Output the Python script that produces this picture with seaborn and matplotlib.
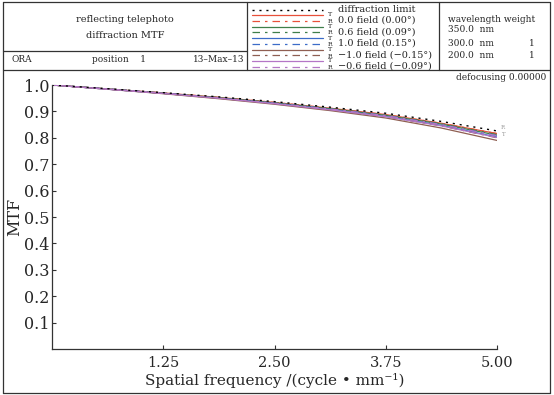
import numpy as np
import pandas as pd
import matplotlib
matplotlib.use('Agg')
import matplotlib.pyplot as plt
from matplotlib.lines import Line2D
import seaborn as sns

# spatial frequency samples (cycle/mm)
freq = [0, 0.625, 1.25, 1.875, 2.5, 3.125, 3.75, 4.375, 5.0]

# MTF values
diff_limit = [1.0, 0.986, 0.971, 0.955, 0.937, 0.916, 0.893, 0.862, 0.826]
f00_T = [1.0, 0.985, 0.970, 0.953, 0.934, 0.912, 0.888, 0.855, 0.816]
f00_R = [1.0, 0.985, 0.970, 0.953, 0.934, 0.912, 0.888, 0.855, 0.816]
f06_T = [1.0, 0.985, 0.969, 0.952, 0.932, 0.910, 0.885, 0.852, 0.810]
f06_R = [1.0, 0.985, 0.969, 0.952, 0.933, 0.911, 0.886, 0.853, 0.812]
f10_T = [1.0, 0.984, 0.968, 0.950, 0.930, 0.907, 0.881, 0.847, 0.803]
f10_R = [1.0, 0.985, 0.969, 0.951, 0.931, 0.909, 0.884, 0.850, 0.808]
fm10_T = [1.0, 0.984, 0.967, 0.948, 0.927, 0.903, 0.875, 0.837, 0.790]
fm10_R = [1.0, 0.984, 0.968, 0.950, 0.930, 0.906, 0.880, 0.845, 0.800]
fm06_T = [1.0, 0.984, 0.968, 0.950, 0.929, 0.906, 0.880, 0.845, 0.801]
fm06_R = [1.0, 0.985, 0.969, 0.951, 0.931, 0.909, 0.884, 0.850, 0.808]

field_labels = ['0.0 field (0.00°)', '0.6 field (0.09°)', '1.0 field (0.15°)',
                '\u22121.0 field (\u22120.15°)', '\u22120.6 field (\u22120.09°)']
field_colors = ['#e8503a', '#3f7f4a', '#3c6cc8', '#8f5f52', '#b476c6']
field_T = [f00_T, f06_T, f10_T, fm10_T, fm06_T]
field_R = [f00_R, f06_R, f10_R, fm10_R, fm06_R]

xticks = [1.25, 2.50, 3.75, 5.00]
xtick_labels = ['1.25', '2.50', '3.75', '5.00']
yticks = [0.1, 0.2, 0.3, 0.4, 0.5, 0.6, 0.7, 0.8, 0.9, 1.0]

sns.set_style('white')
plt.rcParams['font.family'] = ['DejaVu Serif']

W, H = 554, 395
fig = plt.figure(figsize=(W / 100, H / 100), dpi=100)


def px(x, y):
    return x / W, 1 - y / H


def hline(x0, x1, y, **kw):
    a, b = px(x0, y)
    c, d = px(x1, y)
    fig.add_artist(Line2D([a, c], [b, d], transform=fig.transFigure, **kw))


def vline(x, y0, y1, **kw):
    a, b = px(x, y0)
    c, d = px(x, y1)
    fig.add_artist(Line2D([a, c], [b, d], transform=fig.transFigure, **kw))


def ftext(x, y, s, **kw):
    a, b = px(x, y)
    fig.text(a, b, s, **kw)


frame = dict(color='#333333', lw=0.9)
# outer frame and header boxes
hline(3, 550, 2, **frame)
hline(3, 550, 393, **frame)
vline(3, 2, 393, **frame)
vline(550, 2, 393, **frame)
hline(3, 550, 70, **frame)
hline(3, 247, 51, **frame)
vline(247, 2, 70, **frame)
vline(439, 2, 70, **frame)

# title box
ftext(125, 20, 'reflecting telephoto', ha='center', va='center', fontsize=7)
ftext(125, 36, 'diffraction MTF', ha='center', va='center', fontsize=7)
ftext(11, 60, 'ORA', ha='left', va='center', fontsize=6.5)
ftext(92, 60, 'position    1', ha='left', va='center', fontsize=6.5)
ftext(244, 60, '13\u2013Max\u201313', ha='right', va='center', fontsize=6.5)

# wavelength box
ftext(448, 19, 'wavelength weight', ha='left', va='center', fontsize=6.5)
ftext(448, 30, '350.0  nm', ha='left', va='center', fontsize=6.5)
ftext(448, 43, '300.0  nm', ha='left', va='center', fontsize=6.5)
ftext(448, 55, '200.0  nm', ha='left', va='center', fontsize=6.5)
ftext(532, 43, '1', ha='center', va='center', fontsize=6.5)
ftext(532, 55, '1', ha='center', va='center', fontsize=6.5)

# header legend
rdash = (0, (6, 4, 2, 4))
hline(252, 323, 10, color='black', lw=1.0, linestyle=(0, (1.5, 3.5)))
ftext(338, 9, 'diffraction limit', ha='left', va='center', fontsize=7)
for i, (lab, col) in enumerate(zip(field_labels, field_colors)):
    yt = 15 + i * 11.5
    yr = yt + 5.5
    hline(252, 323, yt, color=col, lw=0.9)
    hline(252, 323, yr, color=col, lw=0.9, linestyle=rdash)
    ftext(328, yt, 'T', ha='left', va='center', fontsize=4.5)
    ftext(328, yr + 1, 'R', ha='left', va='center', fontsize=4.5)
    ftext(338, yr, lab, ha='left', va='center', fontsize=7)

ftext(546, 78, 'defocusing 0.00000', ha='right', va='center', fontsize=6.5)

# MTF plot
ax = fig.add_axes([52 / W, (H - 349) / H, (497 - 52) / W, (349 - 85) / H])
for col, t_vals, r_vals in zip(field_colors, field_T, field_R):
    sns.lineplot(x=freq, y=t_vals, ax=ax, color=col, lw=0.9)
    sns.lineplot(x=freq, y=r_vals, ax=ax, color=col, lw=0.9, linestyle=rdash)
sns.lineplot(x=freq, y=diff_limit, ax=ax, color='black', lw=1.0,
             linestyle=(0, (1.5, 3.5)))
ax.text(5.04, 0.838, 'R', fontsize=4, color='#999999', va='center')
ax.text(5.04, 0.812, 'T', fontsize=4, color='#999999', va='center')

ax.set_xlim(0, 5.0)
ax.set_ylim(0, 1.0)
ax.set_xticks(xticks)
ax.set_xticklabels(xtick_labels)
ax.set_yticks(yticks)
ax.set_yticklabels([f'{v:.1f}' for v in yticks])
ax.tick_params(direction='in', length=3, width=0.8, color='#333333',
               bottom=True, left=True)
ax.tick_params(axis='y', labelsize=11.5, pad=2)
ax.tick_params(axis='x', labelsize=10.5, pad=5)
for s in ['top', 'right']:
    ax.spines[s].set_visible(False)
for s in ['left', 'bottom']:
    ax.spines[s].set_color('#333333')
    ax.spines[s].set_linewidth(0.9)
ax.set_ylabel('MTF', fontsize=11.5, va='center')
ax.yaxis.set_label_coords(-(52 - 15) / (497 - 52), 0.5)
ax.set_xlabel('Spatial frequency /(cycle \u2022 mm\u207b\u00b9)', fontsize=11,
              labelpad=2)
ax.patch.set_alpha(0)

fig.savefig('out.png', dpi=100)
